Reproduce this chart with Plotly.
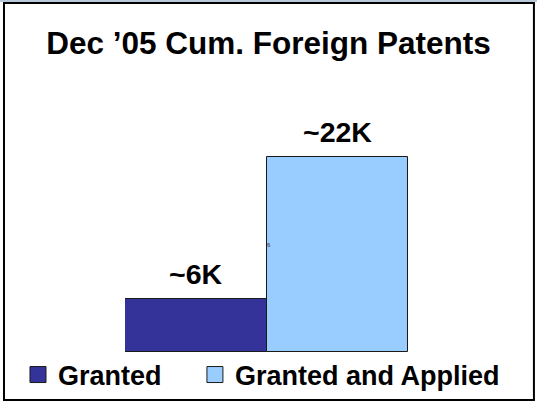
import plotly.graph_objects as go

# data
categories = ["Granted", "Granted and Applied"]
patents = [6000, 22000]
bar_labels = ["~6K", "~22K"]
bar_colors = ["#333399", "#99CCFF"]

FONT = "Arial, Liberation Sans, sans-serif"

fig = go.Figure()

# one bar per category, drawn touching each other
for cat, val, col in zip(categories, patents, bar_colors):
    fig.add_trace(go.Bar(
        x=[cat], y=[val],
        marker=dict(color=col, line=dict(color="#1a1a1a", width=1)),
        width=1.0,
        showlegend=False,
        hoverinfo="skip",
    ))

# legend entries: one legend per item so the row never wraps
legend_names = ["legend", "legend2"]
for cat, col, lg in zip(categories, bar_colors, legend_names):
    fig.add_trace(go.Scatter(
        x=[None], y=[None], mode="markers", name="<b>%s</b>" % cat,
        legend=lg,
        marker=dict(symbol="square", size=16, color=col,
                    line=dict(color="#1a1a1a", width=1)),
    ))

# value labels above each bar
for cat, val, lab in zip(categories, patents, bar_labels):
    fig.add_annotation(x=cat, y=val, text="<b>%s</b>" % lab, showarrow=False,
                       yanchor="bottom", yshift=7,
                       font=dict(family=FONT, size=28.5, color="black"))

# the stray tiny "6" seen in the picture
fig.add_annotation(x=categories[1], y=patents[1] * 0.55, text="6", showarrow=False,
                   xshift=-68, font=dict(family=FONT, size=6, color="#333333"))

# outer frame + thin tinted strip along the very top
fig.add_shape(type="rect", xref="paper", yref="paper",
              x0=-0.4276, x1=1.445, y0=-0.180, y1=1.312,
              line=dict(color="black", width=2), layer="below")
fig.add_shape(type="line", xref="paper", yref="paper",
              x0=-0.45, x1=1.46, y0=1.3195, y1=1.3195,
              line=dict(color="#B8C8D8", width=2), layer="below")

legend_style = dict(orientation="h", xref="container", yref="container",
                    xanchor="left", y=0.0695, yanchor="middle",
                    font=dict(family=FONT, size=27, color="black"),
                    itemwidth=30, bgcolor="rgba(0,0,0,0)")

fig.update_layout(
    width=537, height=403,
    margin=dict(l=125, r=129, t=86, b=51, autoexpand=False),
    paper_bgcolor="white", plot_bgcolor="white",
    bargap=0,
    title=dict(text="<b>Dec \u201905 Cum. Foreign Patents</b>",
               x=0.5, xanchor="center", y=0.893, yanchor="middle",
               font=dict(family=FONT, size=31.5, color="black")),
    xaxis=dict(visible=False, range=[-0.5, 1.5]),
    yaxis=dict(visible=False, range=[0, 30000]),
    legend=dict(x=0.0335, **legend_style),
    legend2=dict(x=0.363, **legend_style),
    showlegend=True,
)

fig.write_html("out.html", config={"displayModeBar": False},
               post_script="document.body.style.margin='0px';")
